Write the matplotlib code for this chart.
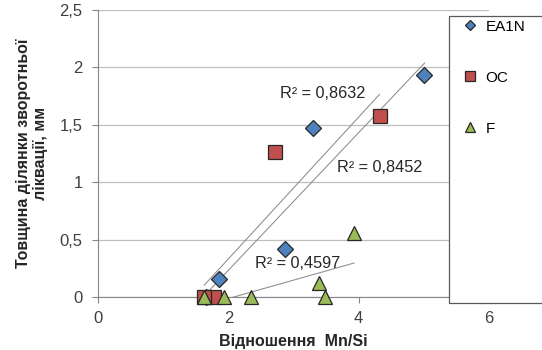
# -*- coding: utf-8 -*-

# точкова діаграма: товщина ділянки зворотньої ліквації від Mn/Si

import numpy as np
import matplotlib.pyplot as plt
from matplotlib.patches import Rectangle

# %% ====================== дані ======================

ea1n_x = [5.01, 3.30, 2.87, 1.86, 1.65]
ea1n_y = [1.935, 1.47, 0.416, 0.154, 0.0]

oc_x = [4.32, 2.72, 1.78, 1.63]
oc_y = [1.58, 1.26, 0.0, 0.0]

f_x = [3.93, 3.39, 3.48, 2.35, 1.93, 1.63]
f_y = [0.555, 0.12, 0.0, 0.0, 0.0, 0.0]

r2_labels = ['R² = 0,8452', 'R² = 0,8632', 'R² = 0,4597']
r2_pos = [(4.33, 1.13), (3.45, 1.777), (3.07, 0.296)]

series_names = ['EA1N', 'OC', 'F']

x_ticks = [0, 2, 4, 6]
y_ticks = [0, 0.5, 1, 1.5, 2, 2.5]
y_tick_labels = ['0', '0,5', '1', '1,5', '2', '2,5']

# %% ====================== рисунок ======================

plt.rcParams['font.family'] = ['Liberation Sans', 'DejaVu Sans']

fig = plt.figure(figsize=(5.42, 3.5), dpi=100)
ax = fig.add_axes([0.1808, 0.1514, 0.7214, 0.82])

colors = ['#4F81BD', '#C0504D', '#9BBB59']
markers = ['D', 's', '^']
sizes = [8, 9.5, 10.5]
data = [(ea1n_x, ea1n_y), (oc_x, oc_y), (f_x, f_y)]

# лінії тренду (лінійні)
for (x, y) in data:
    k, b = np.polyfit(x, y, 1)
    xl = np.array([min(x), max(x)])
    ax.plot(xl, k * xl + b, color='#8C8C8C', lw=0.75, zorder=2)

# точки: EA1N знизу, потім OC, F зверху
handles = []
for i, (x, y) in enumerate(data):
    h, = ax.plot(x, y, linestyle='none', marker=markers[i], ms=sizes[i],
                 mfc=colors[i], mec='#262626', mew=0.9, zorder=4 + i * 0.1,
                 clip_on=False)
    handles.append(h)

for txt, (xt, yt) in zip(r2_labels, r2_pos):
    ax.text(xt, yt, txt, ha='center', va='center', fontsize=11.7,
            color='#262626', zorder=5)

ax.set_xlim(0, 6)
ax.set_ylim(0, 2.5)
ax.set_xticks(x_ticks)
ax.set_yticks(y_ticks)
ax.set_yticklabels(y_tick_labels)
ax.tick_params(colors='#868686', labelcolor='#404040', labelsize=12,
               length=4, width=0.8, direction='out')
ax.tick_params(axis='y', pad=7)
ax.tick_params(axis='x', pad=6)
ax.yaxis.grid(True, color='#BFBFBF', lw=0.9)
ax.set_axisbelow(True)
for s in ['top', 'right']:
    ax.spines[s].set_visible(False)
for s in ['left', 'bottom']:
    ax.spines[s].set_color('#868686')
    ax.spines[s].set_linewidth(0.8)

ax.set_xlabel('Відношення  Mn/Si', fontsize=11.5, fontweight='bold',
              color='#262626', labelpad=6)
ax.set_ylabel('Товщина ділянки зворотньої\nліквації, мм', fontsize=11.5,
              fontweight='bold', color='#262626', labelpad=8)

# легенда (рамка виходить за правий край)
fig.patches.append(Rectangle((449 / 542, 1 - 303 / 350), 0.2, 287 / 350,
                             transform=fig.transFigure, fc='white',
                             ec='#595959', lw=0.9, zorder=10))
leg = fig.legend(handles, series_names, loc='upper left',
                 bbox_to_anchor=(455 / 542, 1 - 12 / 350), frameon=False,
                 fontsize=11, markerscale=0.7, handlelength=1.0,
                 handletextpad=0.5, labelspacing=2.42, borderpad=0)
leg.set_zorder(11)

fig.savefig('out.png', dpi=100)
